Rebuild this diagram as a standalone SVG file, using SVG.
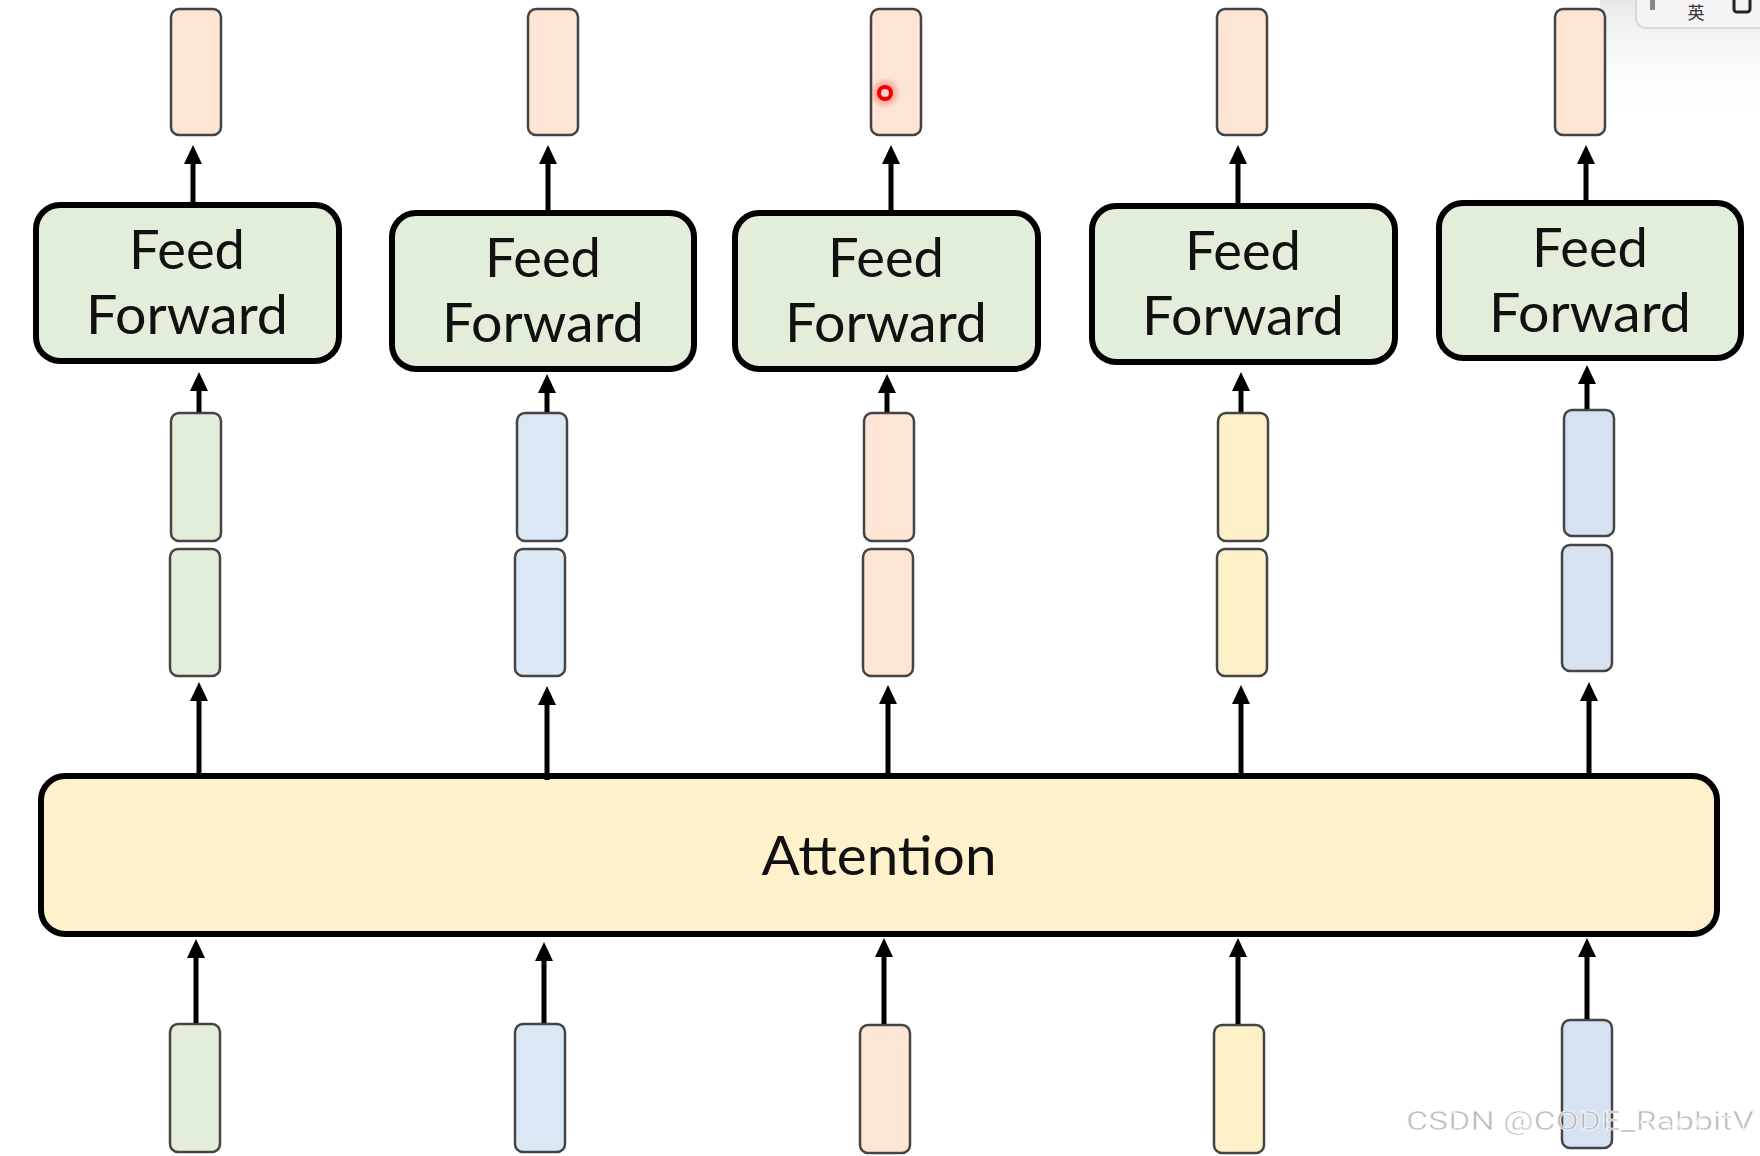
<svg xmlns="http://www.w3.org/2000/svg" width="1760" height="1156" viewBox="0 0 1760 1156">
  <defs>
    <marker id="ah" markerUnits="userSpaceOnUse" markerWidth="20" markerHeight="20" viewBox="0 0 20 20" refX="9" refY="10" orient="auto">
      <path d="M0,1 L19,10 L0,19 Z" fill="#000"/>
    </marker>
    <radialGradient id="glow" cx="0.5" cy="0.5" r="0.5">
      <stop offset="0" stop-color="#ff0000" stop-opacity="0.55"/>
      <stop offset="1" stop-color="#ff0000" stop-opacity="0"/>
    </radialGradient>
    <linearGradient id="shade" x1="0" y1="0" x2="0" y2="1">
      <stop offset="0" stop-color="#d8d8d8" stop-opacity="0.6"/>
      <stop offset="1" stop-color="#ffffff" stop-opacity="0"/>
    </linearGradient>
  </defs>
  <style>
    .vec { stroke: #444; stroke-width: 2.5; }
    .peach { fill: #fce5d5; }
    .green { fill: #e2eed9; }
    .blue { fill: #dae7f5; }
    .blue2 { fill: #d6e2f2; }
    .yellow { fill: #fdf0c9; }
    .ff rect { fill: #e2eeda; stroke: #000; stroke-width: 6; }
    .lbl { font-family: Lato, "Open Sans", "DejaVu Sans", sans-serif; font-size: 54px; fill: #111; text-anchor: middle; }
    .arrow { stroke: #000; stroke-width: 5; fill: none; marker-end: url(#ah); }
  </style>
  <rect x="0" y="0" width="1760" height="1156" fill="#fff"/>

  <!-- top-right video overlay shading -->
  <rect x="1600" y="0" width="160" height="120" fill="url(#shade)"/>
  <g id="ui-widget">
    <rect x="1636" y="-12" width="140" height="40" rx="10" fill="#f4f4f4" stroke="#d0d0d0" stroke-width="1.5"/>
    <rect x="1650" y="-6" width="5" height="16" fill="#888"/>
    <text x="1696" y="19" font-family="'Noto Sans CJK SC', sans-serif" font-size="17" fill="#333" text-anchor="middle">英</text>
    <rect x="1734" y="-6" width="16" height="18" rx="3" fill="none" stroke="#222" stroke-width="3"/>
  </g>

  <!-- Attention -->
  <g id="attention">
    <rect x="41" y="776" width="1676" height="158" rx="24" fill="#fff1cb" stroke="#000" stroke-width="6"/>
    <text class="lbl" x="879" y="875" textLength="235" lengthAdjust="spacingAndGlyphs">Attention</text>
  </g>

  <!-- Feed Forward boxes -->
  <g id="ff1" class="ff">
    <rect x="36" y="205" width="303" height="156" rx="24"/>
    <text class="lbl" x="187" y="269" textLength="116" lengthAdjust="spacingAndGlyphs">Feed</text>
    <text class="lbl" x="187" y="334" textLength="202" lengthAdjust="spacingAndGlyphs">Forward</text>
  </g>
  <g id="ff2" class="ff">
    <rect x="392" y="213" width="302" height="156" rx="24"/>
    <text class="lbl" x="543" y="277" textLength="116" lengthAdjust="spacingAndGlyphs">Feed</text>
    <text class="lbl" x="543" y="342" textLength="202" lengthAdjust="spacingAndGlyphs">Forward</text>
  </g>
  <g id="ff3" class="ff">
    <rect x="735" y="213" width="303" height="156" rx="24"/>
    <text class="lbl" x="886" y="277" textLength="116" lengthAdjust="spacingAndGlyphs">Feed</text>
    <text class="lbl" x="886" y="342" textLength="202" lengthAdjust="spacingAndGlyphs">Forward</text>
  </g>
  <g id="ff4" class="ff">
    <rect x="1092" y="206" width="303" height="156" rx="24"/>
    <text class="lbl" x="1243" y="270" textLength="116" lengthAdjust="spacingAndGlyphs">Feed</text>
    <text class="lbl" x="1243" y="335" textLength="202" lengthAdjust="spacingAndGlyphs">Forward</text>
  </g>
  <g id="ff5" class="ff">
    <rect x="1439" y="203" width="302" height="155" rx="24"/>
    <text class="lbl" x="1590" y="267" textLength="116" lengthAdjust="spacingAndGlyphs">Feed</text>
    <text class="lbl" x="1590" y="332" textLength="202" lengthAdjust="spacingAndGlyphs">Forward</text>
  </g>

  <!-- output vectors (top) -->
  <g id="out1"><rect class="vec peach" x="171" y="9" width="50" height="126" rx="8"/></g>
  <g id="out2"><rect class="vec peach" x="528" y="9" width="50" height="126" rx="8"/></g>
  <g id="out3"><rect class="vec peach" x="871" y="9" width="50" height="126" rx="8"/></g>
  <g id="out4"><rect class="vec peach" x="1217" y="9" width="50" height="126" rx="8"/></g>
  <g id="out5"><rect class="vec peach" x="1555" y="9" width="50" height="126" rx="8"/></g>

  <!-- middle stacked vectors -->
  <g id="mid1">
    <rect class="vec green" x="171" y="413" width="50" height="128" rx="8"/>
    <rect class="vec green" x="170" y="549" width="50" height="127" rx="8"/>
  </g>
  <g id="mid2">
    <rect class="vec blue" x="517" y="413" width="50" height="128" rx="8"/>
    <rect class="vec blue" x="515" y="549" width="50" height="127" rx="8"/>
  </g>
  <g id="mid3">
    <rect class="vec peach" x="864" y="413" width="50" height="128" rx="8"/>
    <rect class="vec peach" x="863" y="549" width="50" height="127" rx="8"/>
  </g>
  <g id="mid4">
    <rect class="vec yellow" x="1218" y="413" width="50" height="128" rx="8"/>
    <rect class="vec yellow" x="1217" y="549" width="50" height="127" rx="8"/>
  </g>
  <g id="mid5">
    <rect class="vec blue2" x="1564" y="410" width="50" height="126" rx="8"/>
    <rect class="vec blue2" x="1562" y="545" width="50" height="126" rx="8"/>
  </g>

  <!-- input vectors (bottom) -->
  <g id="in1"><rect class="vec green" x="170" y="1024" width="50" height="128" rx="8"/></g>
  <g id="in2"><rect class="vec blue" x="515" y="1024" width="50" height="128" rx="8"/></g>
  <g id="in3"><rect class="vec peach" x="860" y="1025" width="50" height="128" rx="8"/></g>
  <g id="in4"><rect class="vec yellow" x="1214" y="1025" width="50" height="128" rx="8"/></g>
  <g id="in5"><rect class="vec blue2" x="1562" y="1020" width="50" height="128" rx="8"/></g>

  <!-- connectors -->
  <g id="connectors">
    <!-- FF -> output -->
    <line class="arrow" x1="193" y1="202" x2="193" y2="155"/>
    <line class="arrow" x1="548" y1="210" x2="548" y2="155"/>
    <line class="arrow" x1="891" y1="210" x2="891" y2="155"/>
    <line class="arrow" x1="1238" y1="203" x2="1238" y2="155"/>
    <line class="arrow" x1="1586" y1="200" x2="1586" y2="155"/>
    <!-- vector -> FF -->
    <line class="arrow" x1="199" y1="412" x2="199" y2="382"/>
    <line class="arrow" x1="547" y1="412" x2="547" y2="384"/>
    <line class="arrow" x1="887" y1="412" x2="887" y2="384"/>
    <line class="arrow" x1="1241" y1="412" x2="1241" y2="382"/>
    <line class="arrow" x1="1587" y1="409" x2="1587" y2="375"/>
    <!-- Attention -> vectors -->
    <line class="arrow" x1="199" y1="776" x2="199" y2="692"/>
    <line class="arrow" x1="547" y1="780" x2="547" y2="696"/>
    <line class="arrow" x1="888" y1="776" x2="888" y2="695"/>
    <line class="arrow" x1="1241" y1="776" x2="1241" y2="695"/>
    <line class="arrow" x1="1589" y1="776" x2="1589" y2="692"/>
    <!-- input -> Attention -->
    <line class="arrow" x1="196" y1="1023" x2="196" y2="949"/>
    <line class="arrow" x1="544" y1="1023" x2="544" y2="952"/>
    <line class="arrow" x1="884" y1="1024" x2="884" y2="948"/>
    <line class="arrow" x1="1238" y1="1024" x2="1238" y2="948"/>
    <line class="arrow" x1="1587" y1="1019" x2="1587" y2="948"/>
  </g>

  <!-- laser pointer dot -->
  <g id="pointer">
    <circle cx="885" cy="93" r="16" fill="url(#glow)"/>
    <circle cx="885" cy="93" r="6" fill="#ffd0c8" stroke="#ee0000" stroke-width="4"/>
  </g>

  <!-- watermark -->
  <text x="1406" y="1130" font-family="Roboto, 'Liberation Sans', sans-serif" font-size="25" fill="#b9b9b9" stroke="#ffffff" stroke-width="0.6" textLength="348" lengthAdjust="spacingAndGlyphs">CSDN @CODE_RabbitV</text>
</svg>
